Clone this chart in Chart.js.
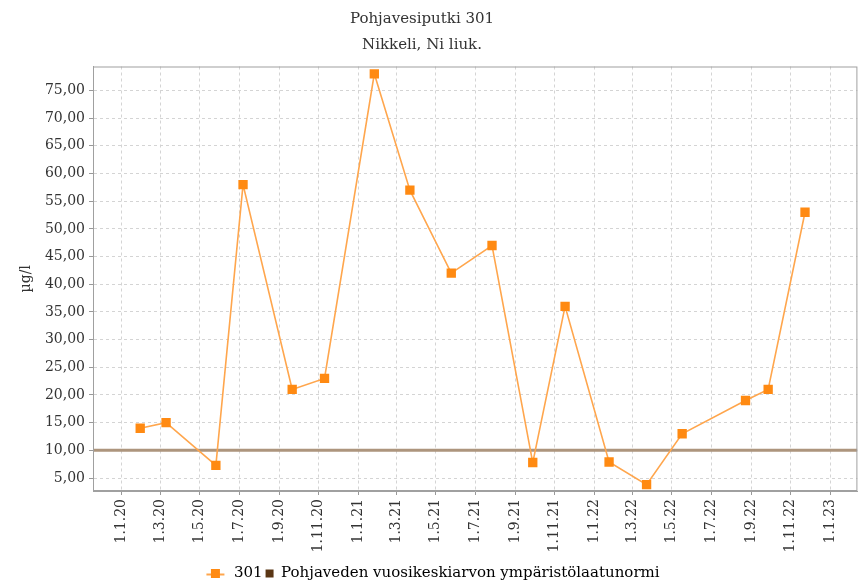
<!DOCTYPE html>
<html>
<head>
<meta charset="utf-8">
<script src="https://cdn.jsdelivr.net/npm/chart.js@4/dist/chart.umd.min.js"></script>
<style>
html,body{margin:0;padding:0;background:#fff;}
canvas{display:block;}
</style>
</head>
<body>
<canvas id="c" width="864" height="581"></canvas>
<script>
// ---- data ----
const sampleDates = ['2020-01-30','2020-03-10','2020-05-26','2020-07-07','2020-09-21','2020-11-10',
  '2021-01-26','2021-03-22','2021-05-25','2021-07-27','2021-09-28','2021-11-17',
  '2022-01-24','2022-03-23','2022-05-17','2022-08-23','2022-09-27','2022-11-23'];
const nickelValues = [14, 15, 7.3, 58, 21, 23, 78, 57, 42, 47, 7.8, 36, 7.9, 3.8, 13, 19, 21, 53];
const normValue = 10;
const tickDates = ['2020-01-01','2020-03-01','2020-05-01','2020-07-01','2020-09-01','2020-11-01',
  '2021-01-01','2021-03-01','2021-05-01','2021-07-01','2021-09-01','2021-11-01',
  '2022-01-01','2022-03-01','2022-05-01','2022-07-01','2022-09-01','2022-11-01','2023-01-01'];
const tickLabels = ['1.1.20','1.3.20','1.5.20','1.7.20','1.9.20','1.11.20',
  '1.1.21','1.3.21','1.5.21','1.7.21','1.9.21','1.11.21',
  '1.1.22','1.3.22','1.5.22','1.7.22','1.9.22','1.11.22','1.1.23'];
const yTickValues = [5,10,15,20,25,30,35,40,45,50,55,60,65,70,75];
const xRange = ['2019-11-18','2023-02-12'];
const yRange = [2.66, 79.33];
const seriesNames = ['301','Pohjaveden vuosikeskiarvon ympäristölaatunormi'];
const titleLines = ['Pohjavesiputki 301','Nikkeli, Ni liuk.'];
const yAxisTitle = 'µg/l';

const t = s => Date.parse(s + 'T00:00:00Z');
const FONT = "'DejaVu Serif', serif";
const ORANGE = '#ff8a12';
const ORANGE_LINE = '#ffa64d';
const NORM_LINE = '#ad957d';
const NORM_LEGEND = '#5a3614';

const tickMs = tickDates.map(t);
const labelFor = {};
tickMs.forEach((v, i) => { labelFor[v] = tickLabels[i]; });

const outline = {
  id: 'outline',
  afterLayout(chart) {
    const tb = chart.titleBlock;
    if (tb) { tb.left = 0; tb.right = 844; tb.width = 844; }
  },
  afterDraw(chart) {
    const {ctx, chartArea: a} = chart;
    ctx.save();
    ctx.strokeStyle = '#a0a0a0';
    ctx.lineWidth = 1;
    ctx.strokeRect(a.left + 0.5, a.top + 0.5, a.right - a.left - 1, a.bottom - a.top - 1);
    const lg = chart.legend;
    if (lg && lg.legendHitBoxes && lg.legendHitBoxes[0]) {
      const hb = lg.legendHitBoxes[0];
      const cy = hb.top + hb.height / 2;
      const cx = hb.left - 3;
      ctx.strokeStyle = ORANGE_LINE;
      ctx.lineWidth = 2;
      ctx.beginPath();
      ctx.moveTo(cx - 9, Math.round(cy) + 0.5);
      ctx.lineTo(cx + 9, Math.round(cy) + 0.5);
      ctx.stroke();
      ctx.fillStyle = ORANGE;
      ctx.fillRect(cx - 4.5, cy - 4.5, 9, 9);
    }
    ctx.restore();
  }
};

new Chart(document.getElementById('c'), {
  type: 'line',
  data: {
    datasets: [
      {
        label: seriesNames[0],
        data: sampleDates.map((d, i) => ({x: t(d), y: nickelValues[i]})),
        borderColor: ORANGE_LINE,
        backgroundColor: ORANGE,
        borderWidth: 1.6,
        pointStyle: 'rect',
        pointRadius: 6.6,
        pointBorderWidth: 0,
        pointBackgroundColor: ORANGE,
        pointBorderColor: ORANGE,
        tension: 0,
        order: 0
      },
      {
        label: seriesNames[1],
        data: [{x: t(xRange[0]), y: normValue}, {x: t(xRange[1]), y: normValue}],
        borderColor: NORM_LINE,
        backgroundColor: NORM_LEGEND,
        borderWidth: 3,
        pointRadius: 0,
        pointStyle: 'rect',
        order: 1
      }
    ]
  },
  options: {
    responsive: false,
    animation: false,
    devicePixelRatio: 1,
    layout: {padding: {left: 18, right: 4, top: 0, bottom: -10}},
    plugins: {
      title: {
        display: true,
        text: titleLines,
        color: '#333',
        font: {family: FONT, size: 15, weight: 'normal', lineHeight: 1.75},
        padding: {top: 6, bottom: 8}
      },
      legend: {
        position: 'bottom',
        labels: {
          font: {family: FONT, size: 15},
          color: '#333',
          usePointStyle: true,
          boxWidth: 8,
          boxHeight: 8,
          padding: 3,
          generateLabels(chart) {
            return chart.data.datasets.map((ds, i) => ({
              text: ds.label,
              fillStyle: i === 0 ? 'rgba(0,0,0,0)' : NORM_LEGEND,
              strokeStyle: 'rgba(0,0,0,0)',
              lineWidth: 0,
              pointStyle: 'rect',
              datasetIndex: i,
              hidden: false
            }));
          }
        }
      },
      tooltip: {enabled: false}
    },
    scales: {
      x: {
        type: 'linear',
        min: t(xRange[0]),
        max: t(xRange[1]),
        afterBuildTicks(scale) { scale.ticks = tickMs.map(v => ({value: v})); },
        afterFit(scale) { scale.height = 72; },
        ticks: {
          autoSkip: false,
          minRotation: 90,
          maxRotation: 90,
          color: '#333',
          font: {family: FONT, size: 14},
          padding: 4,
          callback: v => labelFor[v] || ''
        },
        grid: {
          color: '#d4d4d4',
          tickColor: '#999',
          tickLength: 4,
          lineWidth: 1
        },
        border: {color: '#a0a0a0', dash: [3, 3]}
      },
      y: {
        type: 'linear',
        min: yRange[0],
        max: yRange[1],
        afterBuildTicks(scale) { scale.ticks = yTickValues.map(v => ({value: v})); },
        afterFit(scale) { scale.width = 75; },
        title: {
          display: true,
          text: yAxisTitle,
          color: '#333',
          font: {family: FONT, size: 14},
          padding: {top: 0, bottom: 2}
        },
        ticks: {
          color: '#333',
          font: {family: FONT, size: 14},
          padding: 4,
          callback: v => v.toFixed(2).replace('.', ',')
        },
        grid: {
          color: '#d4d4d4',
          tickColor: '#999',
          tickLength: 4,
          lineWidth: 1
        },
        border: {color: '#a0a0a0', dash: [3, 3]}
      }
    }
  },
  plugins: [outline]
});
</script>
</body>
</html>
